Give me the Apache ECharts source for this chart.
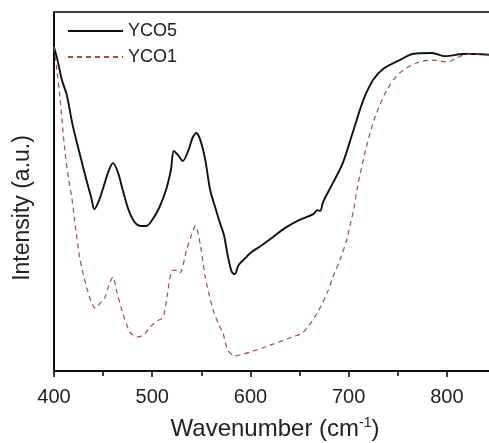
<!DOCTYPE html>
<html>
<head>
<meta charset="utf-8">
<script src="https://cdn.jsdelivr.net/npm/echarts@6/dist/echarts.min.js"></script>
<style>html,body{margin:0;padding:0;background:#fff;}#c{width:489px;height:443px;}</style>
</head>
<body>
<div id="c"></div>
<script>
var seriesNames = ['YCO5', 'YCO1'];
var xTicks = [400, 500, 600, 700, 800];

var yco5Wn = [400,404,408,413,419,426,433,438,441,446,451,456,460,465,470,476,482,488,494,500,507,514,519,522,527,531,537,541,545,549,554,559,565,569,573,577,581,584,588,595,600,612,623,635,650,664,668,671,674,684,694,704,715,725,735,752,765,785,798,817,830,845];
var yco5Val = [90.3,86.1,81.1,76.9,68.5,60.7,53.2,48.2,45.1,47.6,51.8,56.0,57.9,55.4,50.4,44.8,41.5,40.4,40.4,42.1,45.4,50.4,56.0,61.3,59.9,58.5,61.6,64.9,66.3,64.3,58.8,50.4,44.8,41.2,37.9,32.0,27.6,27.0,29.5,31.5,32.9,35.1,37.3,39.8,42.1,43.7,44.8,44.6,47.1,52.4,57.9,66.3,75.5,81.1,84.1,86.6,88.3,88.6,87.7,88.3,88.3,88.0];

var yco1Wn = [400,403,406,411,415,418,421,426,430,434,438,442,447,452,456,460,464,469,477,482,486,492,498,505,511,515,520,524,528,535,540,544,549,554,562,568,572,577,584,592,600,620,640,654,668,678,684,691,698,701,705,709,718,727,739,752,769,786,800,810,817,830,845];
var yco1Val = [90.3,83.8,76.3,61.6,53.2,48.5,42.1,31.8,26.7,22.6,19.2,17.5,18.9,20.6,24.0,26.2,22.0,17.0,10.9,9.7,9.5,10.3,12.3,13.9,15.0,20.6,27.9,28.1,27.3,33.7,37.9,40.4,35.1,26.2,17.0,12.8,10.6,5.8,4.2,4.7,5.3,7.2,9.2,10.9,16.2,21.7,26.2,30.9,36.5,40.1,44.8,51.3,62.4,70.8,78.3,83.0,85.8,86.6,86.1,87.2,88.0,88.3,88.3];

function pairs(xs, ys) { return xs.map(function (x, i) { return [x, ys[i]]; }); }

var chart = echarts.init(document.getElementById('c'), null, {renderer: 'canvas'});
var font = '"Liberation Sans", Arial, sans-serif';
chart.setOption({
  animation: false,
  backgroundColor: '#fff',
  grid: {left: 54, top: 12, width: 442, height: 359, show: true, borderColor: '#000', borderWidth: 1.5,
    backgroundColor: 'transparent', containLabel: false, outerBoundsMode: 'none'},
  legend: {
    orient: 'vertical', left: 67, top: 22, padding: 0, itemWidth: 55, itemHeight: 18, itemGap: 8,
    itemStyle: {color: 'rgba(0,0,0,0)', borderColor: 'rgba(0,0,0,0)', borderWidth: 0, opacity: 0},
    textStyle: {fontFamily: font, fontSize: 18, color: '#222'},
    data: seriesNames
  },
  xAxis: {
    type: 'value', min: 400, max: 850, interval: 100,
    axisLine: {lineStyle: {color: '#000', width: 1.5}},
    axisTick: {show: true, length: 6, lineStyle: {color: '#000', width: 1.5}},
    minorTick: {show: true, splitNumber: 2, length: 5, lineStyle: {color: '#000', width: 1.5}},
    splitLine: {show: false},
    axisLabel: {fontFamily: font, fontSize: 20, color: '#222', margin: 16,
      formatter: function (v) { return xTicks.indexOf(v) >= 0 ? String(v) : ''; }},
    name: 'Wavenumber (cm{sup|-1})', nameLocation: 'middle', nameGap: 45,
    nameTextStyle: {fontFamily: font, fontSize: 24, color: '#222',
      rich: {sup: {fontFamily: font, fontSize: 14, color: '#222', verticalAlign: 'top', padding: [0, 0, 12, 0]}}}
  },
  yAxis: {
    type: 'value', min: 0, max: 100,
    axisLine: {show: true, lineStyle: {color: '#000', width: 1.5}},
    axisTick: {show: false}, axisLabel: {show: false}, splitLine: {show: false},
    name: 'Intensity (a.u.)', nameLocation: 'middle', nameGap: 20,
    nameTextStyle: {fontFamily: font, fontSize: 23, color: '#222', padding: [0, 33, 0, 0]}
  },
  series: [
    {name: seriesNames[0], type: 'line', data: pairs(yco5Wn, yco5Val), symbol: 'none', smooth: 0.3,
      lineStyle: {color: '#111', width: 1.9}, itemStyle: {color: '#111'}},
    {name: seriesNames[1], type: 'line', data: pairs(yco1Wn, yco1Val), symbol: 'none', smooth: 0.3,
      lineStyle: {color: '#a0504e', width: 1.2, type: [5, 4]}, itemStyle: {color: '#a0504e'}}
  ]
});
</script>
</body>
</html>
